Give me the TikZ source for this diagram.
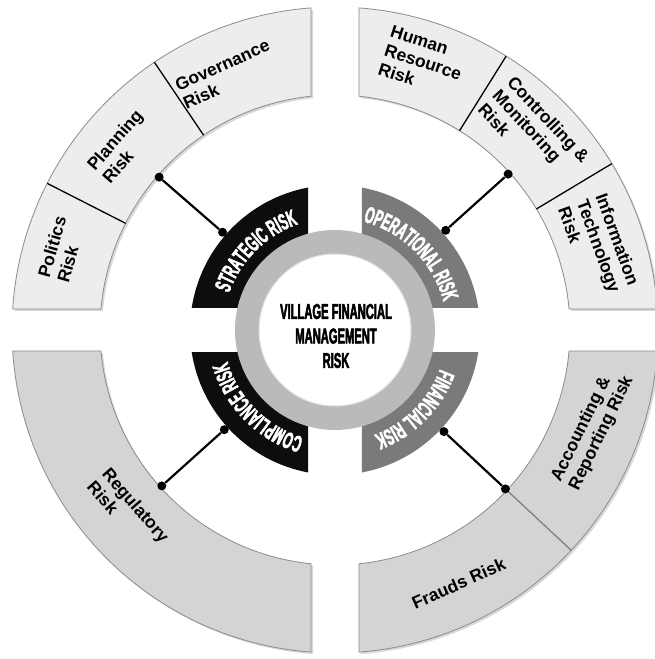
\documentclass[tikz,border=0pt]{standalone}
\usepackage{fontspec}
\setmainfont{Liberation Sans}
\newfontfamily\condfont[FakeStretch=0.52,FakeBold=2.2]{Liberation Sans Bold}
\usetikzlibrary{decorations.text,shadows}

\tikzset{
  upperband/.style={fill=black!7, draw=black!45, line width=0.8pt,
    drop shadow={shadow xshift=2pt, shadow yshift=-2pt, opacity=0.3}},
  lowerband/.style={fill=black!17, draw=black!45, line width=0.8pt,
    drop shadow={shadow xshift=2pt, shadow yshift=-2pt, opacity=0.3}},
  darkpie/.style={fill=black!95},
  greypie/.style={fill=black!52},
  bandtext/.style={font=\fontsize{17.5}{20}\selectfont\bfseries, align=left, inner sep=0pt},
  pietext/.style={decorate, decoration={text along path, text color=white, text align=center,
    text={|\condfont\fontsize{23}{23}\selectfont|#1}}},
  joint/.style={circle, fill=black, inner sep=0pt, minimum size=9pt},
  link/.style={line width=2.2pt},
}

\begin{document}
\begin{tikzpicture}[x=1pt,y=1pt]
\path[fill=white] (-335,-329) rectangle (319,330);
\useasboundingbox (-335,-329) rectangle (319,330);

\path[upperband] (94.26:323) arc[start angle=94.26,end angle=176.27,radius=323] -- (174.87:235) arc[start angle=174.87,end angle=95.86,radius=235] -- cycle;
\path[upperband] (85.74:323) arc[start angle=85.74,end angle=3.73,radius=323] -- (5.13:235) arc[start angle=5.13,end angle=84.14,radius=235] -- cycle;
\path[lowerband] (183.73:323) arc[start angle=183.73,end angle=265.74,radius=323] -- (264.14:235) arc[start angle=264.14,end angle=185.13,radius=235] -- cycle;
\path[lowerband] (-85.74:323) arc[start angle=-85.74,end angle=-3.73,radius=323] -- (-5.13:235) arc[start angle=-5.13,end angle=-84.14,radius=235] -- cycle;

\draw[line width=1.3pt] (153:235) -- (153:323);
\draw[line width=1.3pt] (124:235) -- (124:323);
\draw[line width=1.3pt] (58:235) -- (58:323);
\draw[line width=1.3pt] (31:235) -- (31:323);
\draw[black!50, line width=1.3pt] (-43:235) -- (-43:323);

\fill[darkpie] (-27,22) -- (100.73:145) arc[start angle=100.73,end angle=171.27,radius=145] -- cycle;
\fill[greypie] (27,22) -- (79.27:145) arc[start angle=79.27,end angle=8.73,radius=145] -- cycle;
\fill[darkpie] (-27,-22) -- (188.73:145) arc[start angle=188.73,end angle=259.27,radius=145] -- cycle;
\fill[greypie] (27,-22) -- (-79.27:145) arc[start angle=-79.27,end angle=-8.73,radius=145] -- cycle;

\fill[black!27] (0,0) circle (100);
\filldraw[fill=white, draw=black!12, line width=1pt] (0,0) circle (76);

\path[pietext=STRATEGIC RISK] (180:112) arc[start angle=180,end angle=90,radius=112];
\path[pietext=OPERATIONAL RISK] (90:112) arc[start angle=90,end angle=0,radius=112];
\path[pietext=FINANCIAL RISK] (0:112) arc[start angle=0,end angle=-90,radius=112];
\path[pietext=COMPLIANCE RISK] (-90:112) arc[start angle=-90,end angle=-180,radius=112];

\node[font=\condfont\fontsize{21.5}{24.5}\selectfont, align=center] (core) at (1,-6) {VILLAGE FINANCIAL\\MANAGEMENT\\RISK};

\node[joint] (stratIn) at (139:149) {};
\node[joint] (stratOut) at (139:233) {};
\node[joint] (operIn) at (42:149) {};
\node[joint] (operOut) at (42:233) {};
\node[joint] (compIn) at (222:149) {};
\node[joint] (compOut) at (222:233) {};
\node[joint] (finIn) at (-43:149) {};
\node[joint] (finOut) at (-43:233) {};
\draw[link] (stratIn) -- (stratOut);
\draw[link] (operIn) -- (operOut);
\draw[link] (compIn) -- (compOut);
\draw[link] (finIn) -- (finOut);

\node[bandtext, rotate=74] (politics) at (163.6:285) {Politics\\Risk};
\node[bandtext, rotate=49] (planning) at (139.2:281) {Planning\\Risk};
\node[bandtext, rotate=24] (governance) at (113:278) {Governance\\Risk};
\node[bandtext, rotate=-18] (human) at (71.8:282) {Human\\Resource\\Risk};
\node[bandtext, rotate=-47] (controlling) at (44.7:280) {Controlling \&\\Monitoring\\Risk};
\node[bandtext, rotate=-70] (infotech) at (17.6:277) {Information\\Technology\\Risk};
\node[bandtext, rotate=64] (accounting) at (-21:276) {Accounting \&\\Reporting Risk};
\node[bandtext, rotate=24] (frauds) at (-64:282) {Frauds Risk};
\node[bandtext, rotate=-49] (regulatory) at (-138.7:275) {Regulatory\\Risk};
\end{tikzpicture}
\end{document}
